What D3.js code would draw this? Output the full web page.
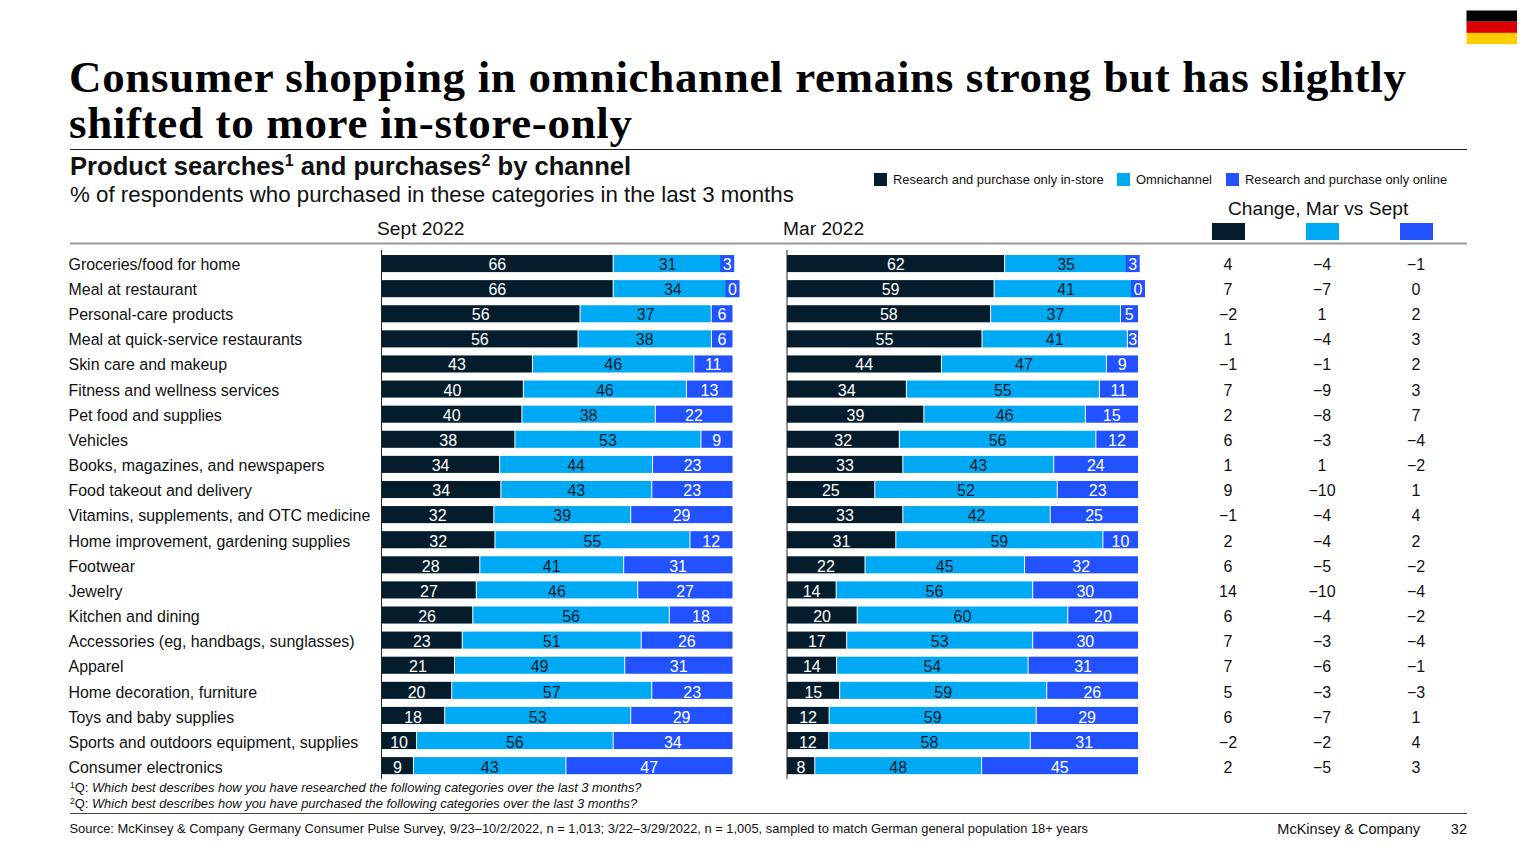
<!DOCTYPE html>
<html>
<head>
<meta charset="utf-8">
<title>Consumer shopping in omnichannel</title>
<script src="https://d3js.org/d3.v7.min.js"></script>
<style>
  html, body { margin: 0; padding: 0; background: #fff; }
  svg { display: block; }
  text { font-family: "Liberation Sans", Arial, sans-serif; fill: #111; }
  .title { font-family: "Liberation Serif", serif; font-weight: 700; font-size: 45px; letter-spacing: 0.66px; fill: #000; }
</style>
</head>
<body>
<svg id="chart" width="1536" height="864"></svg>
<script>
var categories = ["Groceries/food for home", "Meal at restaurant", "Personal-care products",
  "Meal at quick-service restaurants", "Skin care and makeup", "Fitness and wellness services",
  "Pet food and supplies", "Vehicles", "Books, magazines, and newspapers", "Food takeout and delivery",
  "Vitamins, supplements, and OTC medicine", "Home improvement, gardening supplies", "Footwear",
  "Jewelry", "Kitchen and dining", "Accessories (eg, handbags, sunglasses)", "Apparel",
  "Home decoration, furniture", "Toys and baby supplies", "Sports and outdoors equipment, supplies",
  "Consumer electronics"];

var channels = ["Research and purchase only in-store", "Omnichannel", "Research and purchase only online"];
var channelColors = ["#051c2c", "#00a9f4", "#2251ff"];
var labelColors = ["#fff", "#051c2c", "#fff"];

var septStore = [66, 66, 56, 56, 43, 40, 40, 38, 34, 34, 32, 32, 28, 27, 26, 23, 21, 20, 18, 10, 9];
var septOmni = [31, 34, 37, 38, 46, 46, 38, 53, 44, 43, 39, 55, 41, 46, 56, 51, 49, 57, 53, 56, 43];
var septOnline = [3, 0, 6, 6, 11, 13, 22, 9, 23, 23, 29, 12, 31, 27, 18, 26, 31, 23, 29, 34, 47];

var marStore = [62, 59, 58, 55, 44, 34, 39, 32, 33, 25, 33, 31, 22, 14, 20, 17, 14, 15, 12, 12, 8];
var marOmni = [35, 41, 37, 41, 47, 55, 46, 56, 43, 52, 42, 59, 45, 56, 60, 53, 54, 59, 59, 58, 48];
var marOnline = [3, 0, 5, 3, 9, 11, 15, 12, 24, 23, 25, 10, 32, 30, 20, 30, 31, 26, 29, 31, 45];

var changeStore = [4, 7, -2, 1, -1, 7, 2, 6, 1, 9, -1, 2, 6, 14, 6, 7, 7, 5, 6, -2, 2];
var changeOmni = [-4, -7, 1, -4, -1, -9, -8, -3, 1, -10, -4, -4, -5, -10, -4, -3, -6, -3, -7, -2, -5];
var changeOnline = [-1, 0, 2, 3, 2, 3, 7, -4, -2, 1, 4, 2, -2, -4, -2, -4, -1, -3, 1, 4, 3];

var svg = d3.select("#chart");

// bars and text drift slightly apart down the table, so they get their own scales
var y = d3.scaleBand().domain(categories).range([251, 778.2]).paddingInner(0.32).paddingOuter(0.16);
var yText = d3.scalePoint().domain(categories).range([264, 767.3]);

function addText(str, x, yy, size, opts) {
  opts = opts || {};
  return svg.append("text").attr("x", x).attr("y", yy)
    .attr("font-size", size)
    .attr("font-weight", opts.weight || null)
    .attr("font-style", opts.style || null)
    .attr("text-anchor", opts.anchor || "start")
    .text(str);
}

function hline(x1, x2, yy, color, w) {
  svg.append("line").attr("x1", x1).attr("x2", x2).attr("y1", yy).attr("y2", yy)
    .attr("stroke", color).attr("stroke-width", w);
}

/** HEADER **/
svg.append("text").attr("class", "title").attr("x", 69).attr("y", 92).text("Consumer shopping in omnichannel remains strong but has slightly");
svg.append("text").attr("class", "title").attr("x", 69).attr("y", 138).text("shifted to more in-store-only");
hline(70, 1467, 149.5, "#222", 1);

var sub = addText("Product searches", 70, 175, 25.6, {weight: 700});
sub.append("tspan").attr("font-size", 16).attr("dy", -9).text("1");
sub.append("tspan").attr("dy", 9).text(" and purchases");
sub.append("tspan").attr("font-size", 16).attr("dy", -9).text("2");
sub.append("tspan").attr("dy", 9).text(" by channel");
addText("% of respondents who purchased in these categories in the last 3 months", 70, 202, 22.3);

// german flag
["#000", "#dd0000", "#ffce00"].forEach(function(c, i) {
  svg.append("rect").attr("x", 1466.5).attr("y", 10.5 + i * 11.2).attr("width", 50.5).attr("height", 11.2).attr("fill", c);
});

/** LEGEND **/
var legendX = [874, 1117, 1226];
channels.forEach(function(c, i) {
  svg.append("rect").attr("x", legendX[i]).attr("y", 173).attr("width", 13).attr("height", 13).attr("fill", channelColors[i]);
  addText(c, legendX[i] + 19, 184, 12.9);
});

addText("Sept 2022", 377, 235, 19.2);
addText("Mar 2022", 783, 235, 19.2);
addText("Change, Mar vs Sept", 1228, 215, 19.2);
hline(70, 1467, 243.5, "#999", 2);

/** CATEGORY LABELS **/
svg.append("g").selectAll("text").data(categories).join("text")
  .attr("x", 68.5)
  .attr("y", function(d) { return yText(d); })
  .attr("dy", "0.36em")
  .attr("font-size", 15.95)
  .text(function(d) { return d; });

/** STACKED BARS **/
function drawPanel(x0, store, omni, online) {
  var rows = categories.map(function(c, i) { return {cat: c, 0: store[i], 1: omni[i], 2: online[i]}; });
  // rounded shares do not always add to 100, so each row is stretched to the full width
  var series = d3.stack().keys([0, 1, 2]).offset(d3.stackOffsetExpand)(rows);
  var x = d3.scaleLinear().domain([0, 1]).range([x0, x0 + 351]);
  var minWidth = 14;
  var g = svg.append("g");

  series.forEach(function(s) {
    var k = s.key;
    var seg = g.append("g").selectAll("g").data(s).join("g");
    function segWidth(d) { return x(d[1]) - x(d[0]); }
    // tiny segments get a box wide enough for the label, except rows that round to under 100
    function padded(d) {
      return segWidth(d) < minWidth && d.data[0] + d.data[1] + d.data[2] >= 100;
    }
    seg.append("rect")
      .attr("x", function(d) {
        return padded(d) ? (x(d[0]) + x(d[1]) - minWidth) / 2 : x(d[0]) + (k > 0 ? 0.5 : 0);
      })
      .attr("y", function(d) { return y(d.data.cat); })
      .attr("width", function(d) {
        return padded(d) ? minWidth : segWidth(d) - (k === 1 ? 1 : 0.5);
      })
      .attr("height", y.bandwidth())
      .attr("fill", channelColors[k]);
    seg.append("text")
      .attr("x", function(d) { return (x(d[0]) + x(d[1])) / 2; })
      .attr("y", function(d) { return yText(d.data.cat); })
      .attr("dy", "0.36em")
      .attr("text-anchor", "middle")
      .attr("font-size", 16)
      .style("fill", labelColors[k])
      .text(function(d) { return d.data[k]; });
  });

  svg.append("line").attr("x1", x0).attr("x2", x0).attr("y1", 250).attr("y2", 779)
    .attr("stroke", "#222").attr("stroke-width", 1);
}
drawPanel(381.5, septStore, septOmni, septOnline);
drawPanel(787, marStore, marOmni, marOnline);

/** CHANGE COLUMNS **/
var changeX = d3.scalePoint().domain([0, 1, 2]).range([1228, 1416]);
var changeSeries = [changeStore, changeOmni, changeOnline];
var fmt = function(v) { return v < 0 ? "\u2212" + Math.abs(v) : String(v); };
changeSeries.forEach(function(vals, k) {
  svg.append("rect").attr("x", changeX(k) - 16).attr("y", 223).attr("width", 33).attr("height", 17).attr("fill", channelColors[k]);
  svg.append("g").selectAll("text").data(vals).join("text")
    .attr("x", changeX(k))
    .attr("y", function(d, i) { return yText(categories[i]); })
    .attr("dy", "0.36em")
    .attr("text-anchor", "middle")
    .attr("font-size", 16)
    .text(fmt);
});

/** FOOTNOTES **/
function footnote(num, q, yy) {
  var t = addText("", 70, yy, 12.9);
  t.append("tspan").attr("font-size", 8.5).attr("dy", -4.5).text(num);
  t.append("tspan").attr("dy", 4.5).text("Q: ");
  t.append("tspan").attr("font-style", "italic").text(q);
}
footnote("1", "Which best describes how you have researched the following categories over the last 3 months?", 792);
footnote("2", "Which best describes how you have purchased the following categories over the last 3 months?", 808);
hline(70, 1467, 813.5, "#444", 1);
addText("Source: McKinsey & Company Germany Consumer Pulse Survey, 9/23\u201310/2/2022, n = 1,013; 3/22\u20133/29/2022, n = 1,005, sampled to match German general population 18+ years", 69.5, 833, 12.9);
addText("McKinsey & Company", 1420, 834, 14.5, {anchor: "end"});
addText("32", 1467, 834, 14.5, {anchor: "end"});
</script>
</body>
</html>
